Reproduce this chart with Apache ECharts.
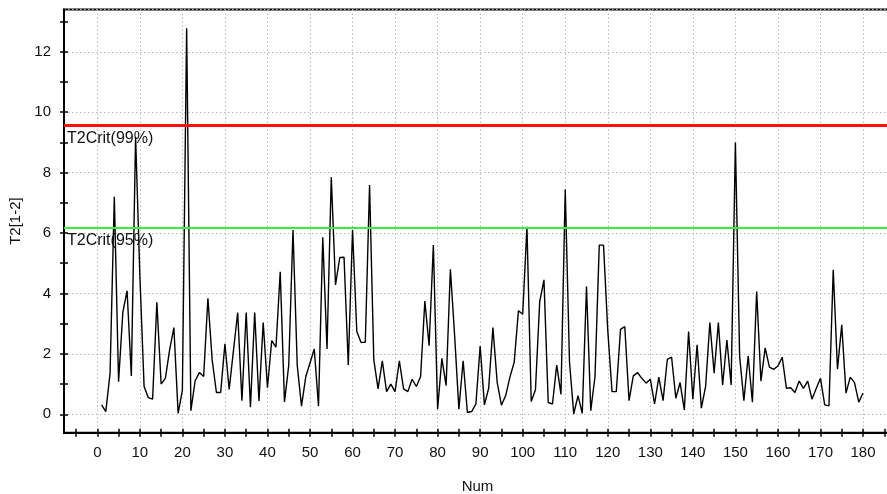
<!DOCTYPE html>
<html>
<head>
<meta charset="utf-8">
<script src="https://cdn.jsdelivr.net/npm/echarts@6/dist/echarts.min.js"></script>
<style>
html,body{margin:0;padding:0;background:#fff;}
#chart{width:887px;height:494px;}
</style>
</head>
<body>
<div id="chart"></div>
<script>
// T2 values for samples 1..180
var t2Values = [
0.31,0.09,1.36,7.2,1.08,3.37,4.09,1.27,9.19,4.6,
0.92,0.55,0.50,3.71,1.0,1.19,2.13,2.87,0.03,0.8,
12.78,0.12,1.11,1.38,1.25,3.84,1.8,0.72,0.72,2.33,
0.82,2.1,3.37,0.45,3.37,0.23,3.37,0.44,3.04,0.88,
2.44,2.22,4.72,0.41,1.62,6.1,1.62,0.27,1.24,1.7,
2.16,0.27,5.86,2.16,7.85,4.28,5.19,5.2,1.63,6.1,
2.74,2.38,2.38,7.59,1.8,0.84,1.77,0.75,1.0,0.75,
1.77,0.84,0.75,1.16,0.92,1.25,3.75,2.27,5.6,0.17,
1.85,0.95,4.8,2.6,0.17,1.77,0.06,0.09,0.34,2.26,
0.31,0.86,2.87,1.06,0.30,0.62,1.23,1.72,3.43,3.31,
6.21,0.42,0.81,3.73,4.45,0.39,0.34,1.63,0.66,7.45,
1.74,0.01,0.62,0.03,4.23,0.12,1.25,5.6,5.6,2.77,
0.75,0.75,2.81,2.9,0.45,1.27,1.38,1.19,1.03,1.16,
0.34,1.23,0.45,1.82,1.89,0.53,1.05,0.14,2.74,0.5,
2.3,0.2,0.92,3.04,1.36,3.04,0.97,2.46,0.97,9.0,
1.91,0.45,1.93,0.40,4.06,1.1,2.2,1.56,1.49,1.6,
1.89,0.86,0.88,0.72,1.1,0.86,1.1,0.5,0.85,1.19,
0.31,0.28,4.78,1.49,2.96,0.7,1.23,1.05,0.4,0.7
];
var sampleStart = 1;
var crit99 = 9.57;
var crit95 = 6.17;
var crit99Label = 'T2Crit(99%)';
var crit95Label = 'T2Crit(95%)';
var xTickValues = [];
for (var v = -5; v <= 185; v += 5) xTickValues.push(v);
var xLabelValues = [0,10,20,30,40,50,60,70,80,90,100,110,120,130,140,150,160,170,180];
var yTickValues = [0,1,2,3,4,5,6,7,8,9,10,11,12,13];
var yLabelValues = [0,2,4,6,8,10,12];

var seriesData = t2Values.map(function (y, i) { return [sampleStart + i, y]; });

var FONT = 'Liberation Sans, Arial, sans-serif';
var TXT = '#111';
var FS = 15;

var chart = echarts.init(document.getElementById('chart'), null, {renderer: 'canvas'});
var xMin = -7.83, xMax = 186.58, yMin = -0.61, yMax = 13.40;

function tickAxisX(inside) {
  return {
    type: 'value', min: xMin, max: xMax, position: 'bottom',
    axisLine: {show: false, onZero: false},
    axisTick: {show: true, inside: inside, customValues: xTickValues, length: 4, lineStyle: {color: '#000', width: 1.5}},
    axisLabel: {show: false},
    splitLine: {show: false}
  };
}
function tickAxisY(inside) {
  return {
    type: 'value', min: yMin, max: yMax, position: 'left',
    axisLine: {show: false, onZero: false},
    axisTick: {show: true, inside: inside, customValues: yTickValues, length: 4, lineStyle: {color: '#000', width: 1.5}},
    axisLabel: {show: false},
    splitLine: {show: false}
  };
}

var option = {
  animation: false,
  backgroundColor: '#fff',
  grid: {left: 64, top: 9.5, right: -4, bottom: 61.3, outerBoundsMode: 'none', containLabel: false,
         show: true, borderColor: '#000', borderWidth: 2, backgroundColor: 'transparent'},
  xAxis: [{
    type: 'value', min: xMin, max: xMax, splitNumber: 19, position: 'bottom',
    name: 'Num', nameLocation: 'middle', nameGap: 47,
    nameTextStyle: {color: TXT, fontFamily: FONT, fontSize: FS},
    axisLine: {show: true, onZero: false, lineStyle: {color: '#000', width: 2}},
    axisTick: {show: false},
    axisLabel: {customValues: xLabelValues, color: TXT, fontFamily: FONT, fontSize: FS, margin: 13},
    splitLine: {show: true, lineStyle: {color: '#b8b8b8', type: [1.5, 2.5], width: 1}}
  }, tickAxisX(false), tickAxisX(true)],
  yAxis: [{
    type: 'value', min: yMin, max: yMax, splitNumber: 7, position: 'left',
    name: 'T2[1-2]', nameLocation: 'middle', nameGap: 38, nameRotate: 90,
    nameTextStyle: {color: TXT, fontFamily: FONT, fontSize: FS},
    axisLine: {show: true, onZero: false, lineStyle: {color: '#000', width: 2}},
    axisTick: {show: false},
    axisLabel: {customValues: yLabelValues, color: TXT, fontFamily: FONT, fontSize: FS, margin: 13},
    splitLine: {show: true, lineStyle: {color: '#b8b8b8', type: [1.5, 2.5], width: 1}}
  }, tickAxisY(false), tickAxisY(true)],
  series: [{
    type: 'line',
    xAxisIndex: 0, yAxisIndex: 0,
    data: seriesData,
    showSymbol: false,
    symbol: 'none',
    lineStyle: {color: '#000', width: 1.4},
    z: 3,
    markLine: {
      silent: true,
      symbol: 'none',
      animation: false,
      data: [
        {yAxis: crit99, lineStyle: {color: '#ff1010', width: 3, type: 'solid'},
         label: {show: true, position: 'insideStartBottom', formatter: crit99Label, color: TXT, fontFamily: FONT, fontSize: 16, distance: [3, 5]}},
        {yAxis: crit95, lineStyle: {color: '#3cee3c', width: 2.2, type: 'solid'},
         label: {show: true, position: 'insideStartBottom', formatter: crit95Label, color: TXT, fontFamily: FONT, fontSize: 16, distance: [3, 5]}}
      ]
    }
  }]
};
chart.setOption(option);
</script>
</body>
</html>
